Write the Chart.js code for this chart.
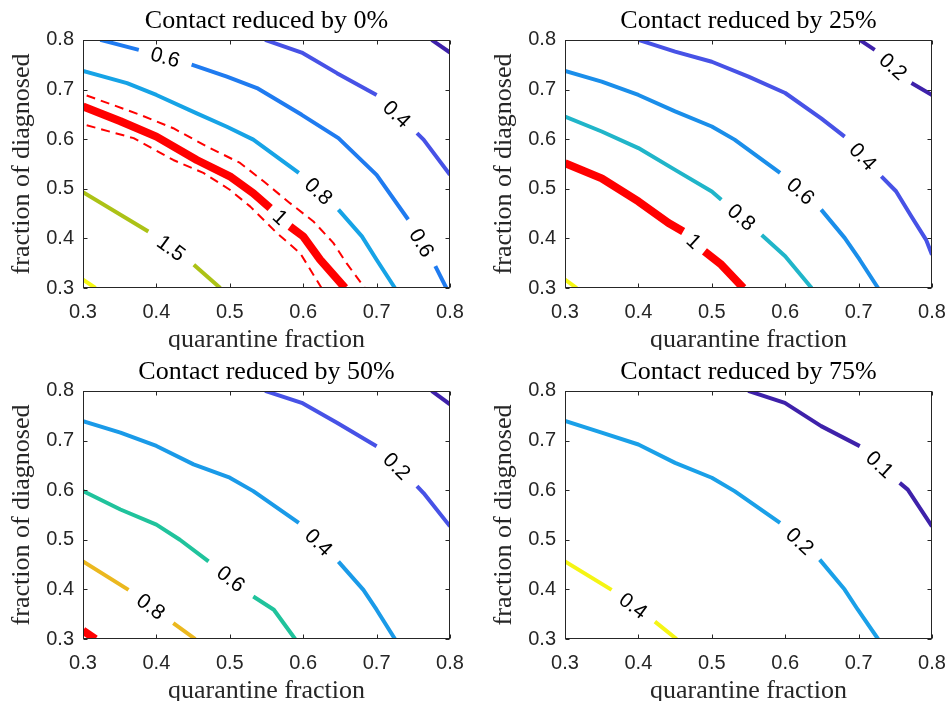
<!DOCTYPE html>
<html><head><meta charset="utf-8">
<script src="https://cdn.jsdelivr.net/npm/chart.js@4.4.1/dist/chart.umd.min.js"></script>
<style>
html,body{margin:0;padding:0;background:#fff;width:949px;height:705px;overflow:hidden;position:relative}
canvas{position:absolute}
</style></head><body>
<canvas id="c0" width="475" height="350" style="left:0px;top:0px"></canvas>
<canvas id="c1" width="475" height="350" style="left:482px;top:0px"></canvas>
<canvas id="c2" width="475" height="350" style="left:0px;top:351px"></canvas>
<canvas id="c3" width="475" height="350" style="left:482px;top:351px"></canvas>
<script>
// ---------- shared axis data ----------
const xTicks = [0.3, 0.4, 0.5, 0.6, 0.7, 0.8];
const yTicks = [0.3, 0.4, 0.5, 0.6, 0.7, 0.8];
const xTickLabels = ['0.3', '0.4', '0.5', '0.6', '0.7', '0.8'];
const yTickLabels = ['0.3', '0.4', '0.5', '0.6', '0.7', '0.8'];
const titles = ['Contact reduced by 0%', 'Contact reduced by 25%', 'Contact reduced by 50%', 'Contact reduced by 75%'];
const xLabel = 'quarantine fraction';
const yLabel = 'fraction of diagnosed';

// ---------- contact reduced by 0% (null = label gap) ----------
const r0_02 = [[0.775,0.8],[0.8,0.7745]];
const r0_04 = [[0.548,0.8],[0.598,0.7745],[0.646,0.733],[0.700,0.689],null,[0.755,0.612],[0.764,0.599],[0.8,0.528]];
const r0_06 = [[0.3236,0.8],[0.376,0.780],null,[0.448,0.750],[0.496,0.726],[0.537,0.703],[0.598,0.649],[0.648,0.602],[0.7,0.528],[0.743,0.438],null,[0.78,0.344],[0.795,0.3]];
const r0_08 = [[0.3,0.7376],[0.36,0.713],[0.4,0.689],[0.455,0.652],[0.496,0.625],[0.532,0.599],[0.594,0.532],null,[0.648,0.458],[0.68,0.404],[0.7,0.357],[0.725,0.3]];
const r0_1 = [[0.3,0.666],[0.351,0.636],[0.4,0.605],[0.455,0.558],[0.5,0.525],[0.532,0.491],[0.555,0.461],null,[0.582,0.424],[0.6,0.404],[0.623,0.357],[0.657,0.3]];
const r0_hi = [[0.305,0.688],[0.378,0.649],[0.423,0.622],[0.469,0.585],[0.514,0.552],[0.546,0.515],[0.582,0.471],[0.614,0.434],[0.641,0.391],[0.659,0.350],[0.684,0.3]];
const r0_lo = [[0.305,0.628],[0.369,0.602],[0.423,0.558],[0.464,0.532],[0.5,0.498],[0.528,0.464],[0.564,0.411],[0.596,0.370],[0.625,0.3]];
const r0_15 = [[0.3,0.493],[0.389,0.414],null,[0.451,0.347],[0.487,0.3]];
const r0_2 = [[0.3,0.317],[0.317,0.3]];

// ---------- contact reduced by 25% ----------
const r25_02 = [[0.7015,0.8],[0.722,0.78],null,[0.772,0.713],[0.8,0.689]];
const r25_04 = [[0.4,0.8],[0.45,0.7765],[0.5,0.756],[0.55,0.726],[0.6,0.693],[0.649,0.642],[0.681,0.605],null,[0.731,0.525],[0.751,0.495],[0.772,0.444],[0.792,0.397],[0.8,0.367]];
const r25_06 = [[0.3,0.7376],[0.35,0.716],[0.4,0.689],[0.45,0.656],[0.5,0.6255],[0.531,0.599],[0.593,0.532],null,[0.649,0.458],[0.681,0.401],[0.7015,0.357],[0.7265,0.3]];
const r25_08 = [[0.3,0.6456],[0.35,0.6154],[0.4,0.582],[0.45,0.538],[0.5,0.4946],[0.513,0.478],null,[0.568,0.407],[0.6,0.364],[0.636,0.3]];
const r25_1 = [[0.3,0.5517],[0.35,0.521],[0.4,0.4745],[0.441,0.431],[0.461,0.414],null,[0.49,0.374],[0.513,0.347],[0.543,0.3]];
const r25_15 = [[0.3,0.317],[0.316,0.3]];

// ---------- contact reduced by 50% ----------
const r50_01 = [[0.775,0.8],[0.8,0.773]];
const r50_02 = [[0.548,0.8],[0.598,0.776],[0.646,0.736],[0.7,0.6885],null,[0.755,0.608],[0.764,0.594],[0.8,0.527]];
const r50_04 = [[0.3,0.739],[0.351,0.716],[0.4,0.689],[0.4506,0.652],[0.5,0.625],[0.532,0.598],[0.594,0.534],null,[0.648,0.456],[0.682,0.399],[0.7,0.359],[0.725,0.3]];
const r50_06 = [[0.3,0.598],[0.351,0.561],[0.4,0.5305],[0.432,0.5],[0.471,0.4564],null,[0.532,0.3856],[0.56,0.359],[0.589,0.3]];
const r50_08 = [[0.3,0.4564],[0.362,0.399],null,[0.423,0.332],[0.453,0.3]];
const r50_1 = [[0.3,0.317],[0.317,0.3]];

// ---------- contact reduced by 75% ----------
const r75_01 = [[0.5495,0.8],[0.5995,0.776],[0.649,0.729],[0.7016,0.6887],null,[0.756,0.6146],[0.767,0.601],[0.8,0.527]];
const r75_02 = [[0.3,0.7394],[0.35,0.716],[0.4,0.692],[0.45,0.655],[0.5,0.625],[0.531,0.598],[0.593,0.534],null,[0.647,0.46],[0.681,0.3996],[0.699,0.359],[0.7265,0.3]];
const r75_04 = [[0.3,0.4564],[0.3635,0.399],null,[0.4225,0.3349],[0.452,0.3]];

// ---------- styles ----------
const C_DARK = '#3e21aa', C_PURP = '#4752e6', C_RED = '#ff0000';
const panels = [
  [
    {pts:r0_02, label:'0.2', color:C_DARK, w:4},
    {pts:r0_04, label:'0.4', color:C_PURP, w:4},
    {pts:r0_06, label:'0.6', color:'#1f7bf0', w:4},
    {pts:r0_08, label:'0.8', color:'#16a3e6', w:4},
    {pts:r0_hi, label:'', color:C_RED, w:2, dash:[9,6]},
    {pts:r0_lo, label:'', color:C_RED, w:2, dash:[9,6]},
    {pts:r0_1, label:'1', color:C_RED, w:8},
    {pts:r0_15, label:'1.5', color:'#acc216', w:4},
    {pts:r0_2, label:'2', color:'#f6f812', w:4}
  ],
  [
    {pts:r25_02, label:'0.2', color:C_DARK, w:4},
    {pts:r25_04, label:'0.4', color:C_PURP, w:4},
    {pts:r25_06, label:'0.6', color:'#1a8eea', w:4},
    {pts:r25_08, label:'0.8', color:'#20b5c9', w:4},
    {pts:r25_1, label:'1', color:C_RED, w:8},
    {pts:r25_15, label:'1.5', color:'#f6f812', w:4}
  ],
  [
    {pts:r50_01, label:'0.1', color:C_DARK, w:4},
    {pts:r50_02, label:'0.2', color:C_PURP, w:4},
    {pts:r50_04, label:'0.4', color:'#1a9ae8', w:4},
    {pts:r50_06, label:'0.6', color:'#20c39c', w:4},
    {pts:r50_08, label:'0.8', color:'#ebb81f', w:4},
    {pts:r50_1, label:'1', color:C_RED, w:8}
  ],
  [
    {pts:r75_01, label:'0.1', color:C_DARK, w:4},
    {pts:r75_02, label:'0.2', color:'#1aa0e8', w:4},
    {pts:r75_04, label:'0.4', color:'#f5f514', w:4}
  ]
];

// ---------- plugin: box, inward ticks, inline contour labels ----------
const contourDecor = {
  id: 'contourDecor',
  afterDatasetsDraw(chart) {
    const {ctx, chartArea: a, scales: {x, y}} = chart;
    ctx.save();
    // inline labels in the gaps of each contour
    ctx.font = '21px "Liberation Sans", Arial, sans-serif';
    ctx.fillStyle = '#000';
    ctx.textAlign = 'center';
    ctx.textBaseline = 'middle';
    chart.data.datasets.forEach(ds => {
      if (!ds.contourLabel) return;
      const d = ds.data;
      for (let i = 1; i < d.length - 1; i++) {
        if (d[i].y !== null) continue;
        const p0 = d[i - 1], p1 = d[i + 1];
        const x0 = x.getPixelForValue(p0.x), y0 = y.getPixelForValue(p0.y);
        const x1 = x.getPixelForValue(p1.x), y1 = y.getPixelForValue(p1.y);
        let ang = Math.atan2(y1 - y0, x1 - x0);
        if (ang > Math.PI / 2) ang -= Math.PI;
        if (ang < -Math.PI / 2) ang += Math.PI;
        ctx.save();
        ctx.translate((x0 + x1) / 2, (y0 + y1) / 2);
        ctx.rotate(ang);
        ctx.fillText(ds.contourLabel, 0, 1);
        ctx.restore();
      }
    });
    // box
    ctx.strokeStyle = '#262626';
    ctx.lineWidth = 1;
    const L = Math.round(a.left) + 0.5, R = Math.round(a.right) - 0.5;
    const T = Math.round(a.top) + 0.5, B = Math.round(a.bottom) - 0.5;
    ctx.strokeRect(L, T, R - L, B - T);
    // inward ticks on all sides
    const tl = 4;
    ctx.beginPath();
    xTicks.forEach(v => {
      const px = Math.round(x.getPixelForValue(v)) + 0.5;
      ctx.moveTo(px, B); ctx.lineTo(px, B - tl);
      ctx.moveTo(px, T); ctx.lineTo(px, T + tl);
    });
    yTicks.forEach(v => {
      const py = Math.round(y.getPixelForValue(v)) + 0.5;
      ctx.moveTo(L, py); ctx.lineTo(L + tl, py);
      ctx.moveTo(R, py); ctx.lineTo(R - tl, py);
    });
    ctx.stroke();
    ctx.restore();
  }
};

const tickFont = {family: '"Liberation Sans", Arial, sans-serif', size: 20};
const serif = '"Liberation Serif", "Times New Roman", serif';

function makeChart(idx) {
  const datasets = panels[idx].map(c => ({
    data: c.pts.map((p, i) => p ? {x: p[0], y: p[1]} :
      {x: (c.pts[i - 1][0] + c.pts[i + 1][0]) / 2, y: null}),
    borderColor: c.color,
    borderWidth: c.w,
    borderDash: c.dash || [],
    borderCapStyle: 'butt',
    borderJoinStyle: 'round',
    pointRadius: 0,
    tension: 0,
    fill: false,
    spanGaps: false,
    clip: 0,
    contourLabel: c.label
  }));
  new Chart(document.getElementById('c' + idx), {
    type: 'line',
    data: {datasets},
    plugins: [contourDecor],
    options: {
      responsive: false,
      animation: false,
      events: [],
      layout: {padding: {left: 0, right: 25, top: 0, bottom: 0}},
      plugins: {
        legend: {display: false},
        tooltip: {enabled: false},
        title: {
          display: true, text: titles[idx], fullSize: false,
          color: '#000',
          font: {family: serif, size: 26, weight: 'normal', lineHeight: 1.15},
          padding: {top: 6, bottom: 4}
        }
      },
      scales: {
        x: {
          type: 'linear', min: 0.3, max: 0.8,
          grid: {display: false, drawTicks: false}, border: {display: false},
          afterBuildTicks: s => { s.ticks = xTicks.map(v => ({value: v})); },
          ticks: {color: '#262626', font: tickFont, padding: 12, maxRotation: 0,
                  callback: (v, i) => xTickLabels[i]},
          title: {display: true, text: xLabel, color: '#262626',
                  font: {family: serif, size: 26, lineHeight: 0.75}, padding: {top: 0, bottom: 0}},
          afterFit: s => { s.height = 62; s.paddingLeft = 0; s.paddingRight = 0; }
        },
        y: {
          type: 'linear', min: 0.3, max: 0.8,
          grid: {display: false, drawTicks: false}, border: {display: false},
          afterBuildTicks: s => { s.ticks = yTicks.map(v => ({value: v})); },
          ticks: {color: '#262626', font: tickFont, padding: 9,
                  callback: (v, i) => yTickLabels[i]},
          title: {display: true, text: yLabel, color: '#262626',
                  font: {family: serif, size: 26, lineHeight: 1}, padding: {top: 9, bottom: 0}},
          afterFit: s => { s.width = 83; s.paddingTop = 0; s.paddingBottom = 0; }
        }
      }
    }
  });
}
[0, 1, 2, 3].forEach(makeChart);
</script>
</body></html>
